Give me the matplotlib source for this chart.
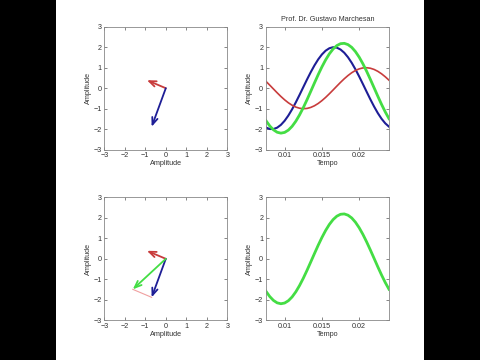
import matplotlib
matplotlib.use("Agg")
import matplotlib.pyplot as plt
from matplotlib.patches import Rectangle

plt.rcParams['font.family'] = ['Liberation Sans', 'DejaVu Sans']

# time samples (s) and the three waves
tempo = [0.0075 + 0.0005 * k for k in range(34)]
azul = [-1.917, -1.990, -1.992, -1.924, -1.788, -1.589, -1.333, -1.030, -0.690, -0.327,
        0.049, 0.423, 0.781, 1.112, 1.405, 1.646, 1.830, 1.949, 1.999, 1.978,
        1.886, 1.729, 1.509, 1.237, 0.920, 0.571, 0.202, -0.174, -0.544, -0.895,
        -1.215, -1.491, -1.714, -1.877]
vermelho = [0.332, 0.150, -0.038, -0.225, -0.404, -0.568, -0.712, -0.831, -0.921, -0.977,
            -1.000, -0.987, -0.938, -0.857, -0.745, -0.607, -0.448, -0.272, -0.087, 0.101,
            0.286, 0.460, 0.618, 0.755, 0.864, 0.943, 0.989, 0.999, 0.974, 0.915,
            0.823, 0.702, 0.556, 0.391]
verde = [-1.585, -1.840, -2.030, -2.149, -2.192, -2.157, -2.045, -1.861, -1.611, -1.304,
         -0.951, -0.564, -0.157, 0.255, 0.660, 1.039, 1.382, 1.677, 1.912, 2.079,
         2.172, 2.189, 2.127, 1.992, 1.784, 1.514, 1.191, 0.825, 0.430, 0.020,
         -0.392, -0.789, -1.158, -1.486]

# phasor tips (real, imag)
fasor_azul = (-0.69, -1.88)
fasor_vermelho = (-0.92, 0.39)
fasor_verde = (-1.61, -1.49)

c_azul = "#1e1e96"
c_verm = "#c83c3c"
c_verde = "#44dd44"
fs = 5.2

fig = plt.figure(figsize=(4.8, 3.6), dpi=100, facecolor="white")
# black side bars of the video frame
fig.patches.append(Rectangle((0, 0), 56 / 480, 1, transform=fig.transFigure,
                             facecolor="black", edgecolor="none"))
fig.patches.append(Rectangle((424 / 480, 0), 56 / 480, 1, transform=fig.transFigure,
                             facecolor="black", edgecolor="none"))

def estilo(ax):
    ax.set_ylim(-3, 3)
    ax.set_yticks([-3, -2, -1, 0, 1, 2, 3])
    ax.tick_params(direction="in", top=True, right=True, labelsize=fs,
                   length=2.5, width=0.5, colors="#555555", labelcolor="#333333", pad=2)
    for s in ax.spines.values():
        s.set_color("#888888")
        s.set_linewidth(0.6)
    ax.set_ylabel("Amplitude", fontsize=fs, color="#333333", labelpad=1)

def seta(ax, tip, cor, base=(0, 0)):
    ax.annotate("", xy=tip, xytext=base,
                arrowprops=dict(arrowstyle="->,head_length=0.5,head_width=0.2",
                                color=cor, lw=1.3, shrinkA=0, shrinkB=0))

w = 123 / 480
h = 123 / 360
pos = {"tl": [104.3 / 480, 1 - 149.7 / 360, w, h],
       "tr": [266 / 480, 1 - 149.7 / 360, w, h],
       "bl": [104.3 / 480, 1 - 320.3 / 360, w, h],
       "br": [266 / 480, 1 - 320.3 / 360, w, h]}

# top left: phasors
ax1 = fig.add_axes(pos["tl"])
estilo(ax1)
ax1.set_xlim(-3, 3)
ax1.set_xticks([-3, -2, -1, 0, 1, 2, 3])
ax1.set_xlabel("Amplitude", fontsize=fs, color="#333333", labelpad=0.5)
seta(ax1, fasor_vermelho, c_verm)
seta(ax1, fasor_azul, c_azul)

# top right: waves
ax2 = fig.add_axes(pos["tr"])
estilo(ax2)
ax2.plot(tempo, azul, color=c_azul, lw=1.5)
ax2.plot(tempo, vermelho, color=c_verm, lw=1.2)
ax2.plot(tempo, verde, color=c_verde, lw=2.0)
ax2.set_xlim(0.0075, 0.024)
ax2.set_xticks([0.01, 0.015, 0.02])
ax2.set_xticklabels(["0.01", "0.015", "0.02"])
ax2.set_xlabel("Tempo", fontsize=fs, color="#333333", labelpad=0.5)
ax2.set_title("Prof. Dr. Gustavo Marchesan", fontsize=fs, color="#333333", pad=4)

# bottom left: phasor sum
ax3 = fig.add_axes(pos["bl"])
estilo(ax3)
ax3.set_xlim(-3, 3)
ax3.set_xticks([-3, -2, -1, 0, 1, 2, 3])
ax3.set_xlabel("Amplitude", fontsize=fs, color="#333333", labelpad=0.5)
ax3.plot([fasor_azul[0], fasor_verde[0]], [fasor_azul[1], fasor_verde[1]],
         color="#f0a0a0", lw=0.8)
seta(ax3, fasor_vermelho, c_verm)
seta(ax3, fasor_azul, c_azul)
seta(ax3, fasor_verde, c_verde)

# bottom right: resulting wave
ax4 = fig.add_axes(pos["br"])
estilo(ax4)
ax4.plot(tempo, verde, color=c_verde, lw=2.0)
ax4.set_xlim(0.0075, 0.024)
ax4.set_xticks([0.01, 0.015, 0.02])
ax4.set_xticklabels(["0.01", "0.015", "0.02"])
ax4.set_xlabel("Tempo", fontsize=fs, color="#333333", labelpad=0.5)

fig.savefig("out.png", dpi=100, facecolor=fig.get_facecolor())
